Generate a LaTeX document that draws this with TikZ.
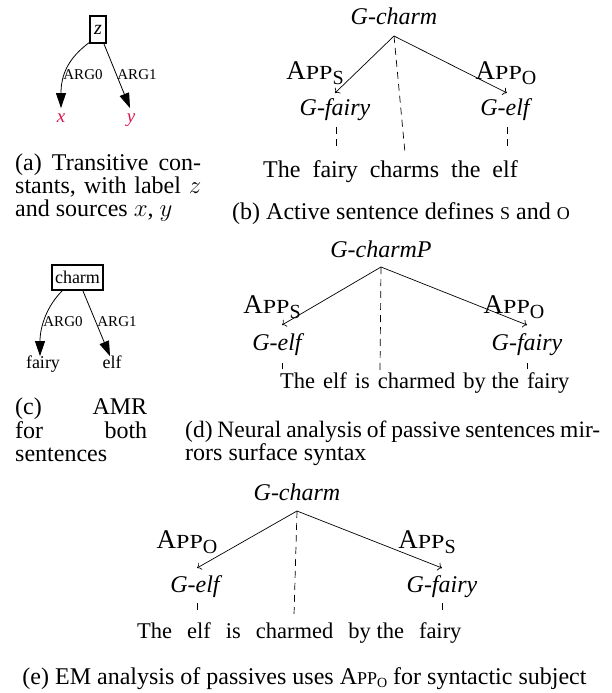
\documentclass[tikz,border=0pt]{standalone}
\usepackage{fontspec}
\usepackage{graphicx}
\setmainfont{Liberation Serif}
\usetikzlibrary{arrows.meta}
\definecolor{srccol}{RGB}{220,20,80}
\newcommand\AppBig[1]{{\fontsize{27}{27}\selectfont A}{\fontsize{20}{20}\selectfont\scalebox{1.2}[1]{PP}}\raisebox{-5pt}{\fontsize{20}{20}\selectfont #1}}
\newcommand\AppCap[1]{A{\fontsize{18}{18}\selectfont PP}\raisebox{-3pt}{\fontsize{14}{14}\selectfont #1}}
\newcommand\scLet[1]{{\fontsize{18}{18}\selectfont #1}}
\begin{document}
\begin{tikzpicture}[x=1pt,y=-1pt,
  captext/.style={font=\fontsize{24}{23}\selectfont, inner sep=0pt, anchor=base west},
  captextc/.style={font=\fontsize{24}{23}\selectfont, inner sep=0pt, anchor=base},
  gv/.style={font=\fontsize{15}{15}\selectfont, inner sep=0pt, anchor=base},
  gvbox/.style={draw, line width=2pt, inner sep=0pt},
  src/.style={font=\fontsize{19}{19}\selectfont\itshape, text=srccol, inner sep=0pt, anchor=base},
  amrw/.style={font=\fontsize{18}{18}\selectfont, inner sep=0pt, anchor=base},
  gvedge/.style={line width=0.8pt, -{Triangle[length=15pt,width=10pt]}},
  gnode/.style={font=\fontsize{24}{24}\selectfont\itshape, inner sep=0pt, anchor=base},
  applab/.style={inner sep=0pt, anchor=base},
  sent/.style={font=\fontsize{24}{24}\selectfont, inner sep=0pt, anchor=base west},
  sentsm/.style={font=\fontsize{22.5}{23}\selectfont, inner sep=0pt, anchor=base west},
  tedge/.style={line width=0.7pt, -{To[length=4pt,width=8pt]}},
  dline/.style={line width=0.7pt, dash pattern=on 7pt off 5pt}
]
\useasboundingbox (0,0) rectangle (611,693);

% ---------- (a) ----------
\node[gvbox, minimum width=16pt, minimum height=27pt, font=\fontsize{20}{20}\selectfont\itshape] (za) at (98,29.5) {z};
\node[src] (xa) at (61,122) {x};
\node[src] (ya) at (131,122) {y};
\node[gv] (a0) at (83,80) {ARG0};
\node[gv] (a1) at (137,80) {ARG1};
\draw[gvedge] ([xshift=1pt,yshift=2pt]za.south west) .. controls (68,58) and (61,75) .. ([yshift=5pt]xa.north);
\draw[gvedge] ([xshift=-3pt]za.south east) -- ([xshift=-1pt,yshift=5pt]ya.north);
\node[captext] (capa1) at (15,170) {\makebox[186pt][s]{(a) Transitive con-}};
\node[captext] (capa2) at (15,193) {\makebox[186pt][s]{stants, with label $z$}};
\node[captext] (capa3) at (15,216) {and sources $x$, $y$};

% ---------- (c) ----------
\node[gvbox, minimum width=51pt, minimum height=25pt, font=\fontsize{18}{18}\selectfont] (cb) at (77.5,277.5) {charm};
\node[amrw] (cf) at (43,368) {fairy};
\node[amrw] (ce) at (112,368) {elf};
\node[gv] (c0) at (63,326) {ARG0};
\node[gv] (c1) at (117,326) {ARG1};
\draw[gvedge] ([xshift=11pt]cb.south west) .. controls (48,305) and (40,325) .. ([xshift=-3pt,yshift=-1pt]cf.north);
\draw[gvedge] ([xshift=-21pt]cb.south east) -- ([xshift=-2pt,yshift=-1pt]ce.north);
\node[captext] (capc1) at (15,414) {\makebox[132pt][s]{(c)\hfill AMR}};
\node[captext] (capc2) at (15,438) {\makebox[132pt][s]{for\hfill both}};
\node[captext] (capc3) at (15,461) {sentences};

% ---------- (b) ----------
\node[gnode] (bg) at (394,25) {G-charm};
\coordinate (bt) at (394,36);
\coordinate (bl) at (335,93);
\coordinate (br) at (507,93);
\node[applab] (bas) at (315,80) {\AppBig{S}};
\node[applab] (bao) at (506,80) {\AppBig{O}};
\node[gnode] (bf) at (335,115) {G-fairy};
\node[gnode] (be) at (505,115) {G-elf};
\draw[tedge] (bt) -- (bl);
\draw[tedge] (bt) -- (br);
\node[sent] (bs) at (263,177) {The\hspace{12pt}fairy\hspace{12pt}charms\hspace{12pt}the\hspace{12pt}elf};
\draw[dline] (336,127) -- (336,148);
\draw[dline] (bt) -- (405,153);
\draw[dline] (507,127) -- (507,148);
\node[captextc] (capb) at (401,219) {(b) Active sentence defines \scLet{S} and \scLet{O}};

% ---------- (d) ----------
\node[gnode] (dg) at (381,257) {G-charmP};
\coordinate (dt) at (381,267);
\coordinate (dl) at (282,325);
\coordinate (dr) at (527,325);
\node[applab] (das) at (272,313) {\AppBig{S}};
\node[applab] (dao) at (514,313) {\AppBig{O}};
\node[gnode] (de) at (277,350) {G-elf};
\node[gnode] (df) at (527,350) {G-fairy};
\draw[tedge] (dt) -- (dl);
\draw[tedge] (dt) -- (dr);
\draw[dline] (282,363) -- (282,369);
\draw[dline] (dt) -- (380,370);
\draw[dline] (527,363) -- (527,369);
\node[sentsm] (ds) at (280,388) {The\hspace{8pt}elf\hspace{8pt}is\hspace{8pt}charmed\hspace{8pt}by the\hspace{8pt}fairy};
\node[captext, font=\fontsize{23.5}{23}\selectfont] (capd1) at (185,437) {\makebox[415pt][s]{(d) Neural analysis of passive sentences mir-}};
\node[captext] (capd2) at (185,460) {rors surface syntax};

% ---------- (e) ----------
\node[gnode] (eg) at (297,500) {G-charm};
\coordinate (et) at (297,511);
\coordinate (el) at (197,568);
\coordinate (er) at (442,568);
\node[applab] (eao) at (187,548) {\AppBig{O}};
\node[applab] (eas) at (427,548) {\AppBig{S}};
\node[gnode] (ee) at (195,592) {G-elf};
\node[gnode] (ef) at (442,592) {G-fairy};
\draw[tedge] (et) -- (el);
\draw[tedge] (et) -- (er);
\draw[dline] (197,603) -- (197,610);
\draw[dline] (et) -- (294,615);
\draw[dline] (442,603) -- (442,610);
\node[sentsm] (es) at (137,638) {The\hspace{15pt}elf\hspace{15pt}is\hspace{15pt}charmed\hspace{15pt}by the\hspace{15pt}fairy};
\node[captextc] (cape) at (304.5,684) {(e) EM analysis of passives uses \AppCap{O} for syntactic subject};
\end{tikzpicture}
\end{document}
